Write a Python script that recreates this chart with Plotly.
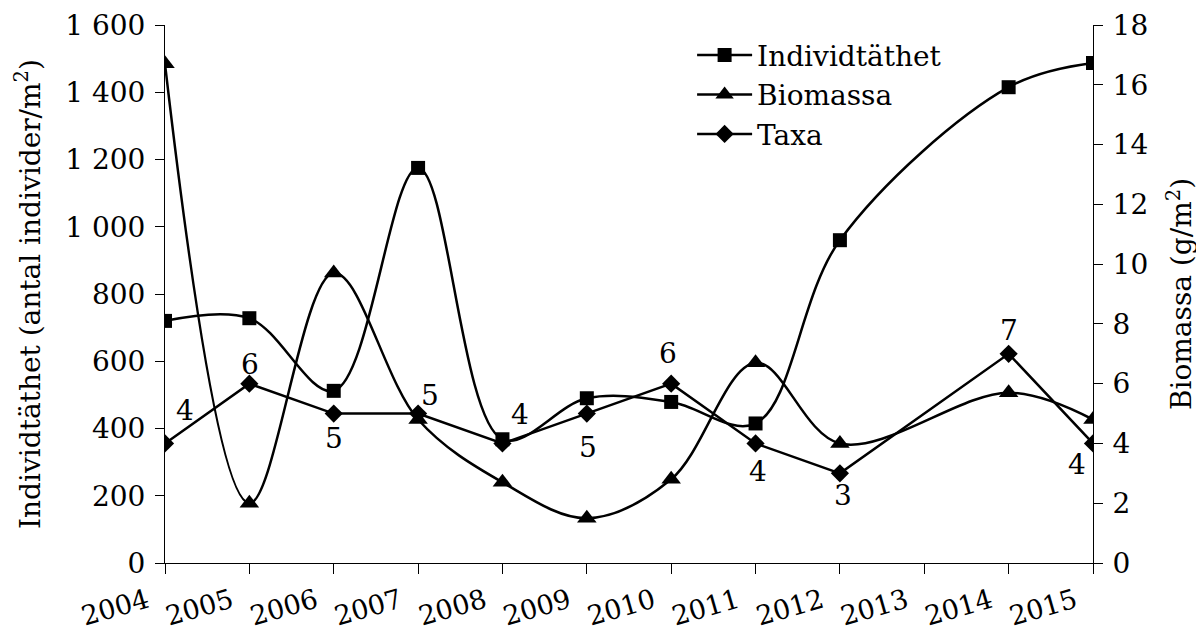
import plotly.graph_objects as go

years = [2004, 2005, 2006, 2007, 2008, 2009, 2010, 2011, 2012, 2014, 2015]
tick_years = [2004, 2005, 2006, 2007, 2008, 2009, 2010, 2011, 2012, 2013, 2014, 2015]
individtathet = [720, 728, 512, 1175, 368, 490, 479, 415, 960, 1415, 1487]
biomassa = [16.7, 2.0, 9.7, 4.8, 2.7, 1.5, 2.8, 6.7, 4.0, 5.7, 4.8]
taxa = [4, 6, 5, 5, 4, 5, 6, 4, 3, 7, 4]
left_ticks = [0, 200, 400, 600, 800, 1000, 1200, 1400, 1600]
left_tick_text = ["0", "200", "400", "600", "800", "1 000", "1 200", "1 400", "1 600"]
right_ticks = [0, 2, 4, 6, 8, 10, 12, 14, 16, 18]

# label offsets (pixels) for taxa data labels
label_dx = [20, 1, 0, 12, 18, 1, -3, 2, 3, 0, -16]
label_dy = [-33, -19, 25, -18, -29, 34, -30, 28, 22, -23, 21]

FONT = "DejaVu Serif"
FS = 28

fig = go.Figure()
fig.add_trace(go.Scatter(
    x=years, y=individtathet, name="Individtäthet", mode="lines+markers",
    line=dict(color="black", width=2.5, shape="spline", smoothing=1),
    marker=dict(symbol="square", size=14, color="black"),
))
fig.add_trace(go.Scatter(
    x=years, y=biomassa, name="Biomassa", mode="lines+markers", yaxis="y2",
    line=dict(color="black", width=2.5, shape="spline", smoothing=1),
    marker=dict(symbol="triangle-up", size=17, color="black"),
))
fig.add_trace(go.Scatter(
    x=years, y=taxa, name="Taxa", mode="lines+markers", yaxis="y2",
    line=dict(color="black", width=2.5),
    marker=dict(symbol="diamond", size=14, color="black"),
))

for x, v, dx, dy in zip(years, taxa, label_dx, label_dy):
    fig.add_annotation(x=x, y=v, xref="x", yref="y2", text=str(v), showarrow=False,
                       xshift=dx, yshift=-dy, font=dict(family=FONT, size=FS, color="black"))

fig.update_layout(
    width=1196, height=629,
    margin=dict(l=157, r=111, t=17, b=74),
    paper_bgcolor="white", plot_bgcolor="white",
    font=dict(family=FONT, size=FS, color="black"),
    showlegend=True,
    legend=dict(x=0.568, y=0.99, xanchor="left", yanchor="top", bgcolor="rgba(0,0,0,0)",
                font=dict(family=FONT, size=FS), itemwidth=55, tracegroupgap=0),
    xaxis=dict(range=[2004, 2015], tickvals=tick_years, ticktext=[str(t) for t in tick_years],
               tickangle=-16, showgrid=False, zeroline=False, showline=True, linecolor="black",
               linewidth=1, ticks="outside", ticklen=10, tickcolor="black",
               ticklabelshift=-18, ticklabelstandoff=1, automargin=False,
               tickfont=dict(family=FONT, size=27)),
    yaxis=dict(range=[0, 1600], tickvals=left_ticks, ticktext=left_tick_text,
               showgrid=False, zeroline=False, showline=True, linecolor="black", linewidth=1,
               ticks="outside", ticklen=9, tickcolor="black", ticklabelstandoff=4,
               automargin=False,
               title=dict(text="Individtäthet (antal individer/m<sup>2</sup>)", standoff=16,
                          font=dict(family=FONT, size=FS))),
    yaxis2=dict(range=[0, 18], tickvals=right_ticks, overlaying="y", side="right",
                showgrid=False, zeroline=False, showline=True, linecolor="black", linewidth=1,
                ticks="outside", ticklen=9, tickcolor="black", ticklabelstandoff=4,
                automargin=False,
                title=dict(text="Biomassa (g/m<sup>2</sup>)", standoff=24,
                           font=dict(family=FONT, size=FS))),
)

fig.write_html("out.html")
